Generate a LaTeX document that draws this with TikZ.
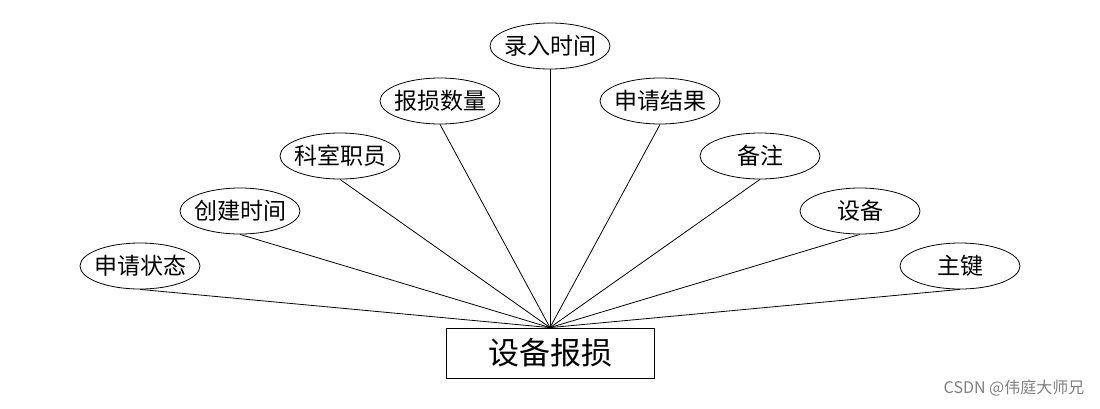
\documentclass[tikz,border=0pt]{standalone}
\usepackage{fontspec}
\setmainfont{Noto Sans CJK SC}
\usepackage{tikz}
\usetikzlibrary{shapes.geometric}

\tikzset{
  attr/.style={draw, ellipse, minimum width=120pt, minimum height=46pt, inner xsep=-10pt, inner ysep=0pt, font=\fontsize{23}{25}\selectfont},
  entity/.style={draw, rectangle, minimum width=208pt, minimum height=50pt, inner sep=0pt, font=\fontsize{31}{33}\selectfont}
}

\begin{document}
\begin{tikzpicture}[x=1pt, y=-1pt, line width=0.8pt]

\useasboundingbox (0, 0) rectangle (1100, 408);

\node[entity] (e) at (550, 353) {设备报损};

\node[attr] (a1) at (140, 266) {申请状态};
\node[attr] (a2) at (240, 211) {创建时间};
\node[attr] (a3) at (340, 156) {科室职员};
\node[attr] (a4) at (440, 101) {报损数量};
\node[attr] (a5) at (550, 46) {录入时间};
\node[attr] (a6) at (660, 101) {申请结果};
\node[attr] (a7) at (760, 156) {备注};
\node[attr] (a8) at (860, 211) {设备};
\node[attr] (a9) at (960, 266) {主键};

\foreach \i in {1,...,9}
  \draw (e.north) -- (a\i.south);

\node[gray, font=\fontsize{16}{17}\selectfont] (wm) at (1014, 388) {CSDN @伟庭大师兄};

\end{tikzpicture}
\end{document}
